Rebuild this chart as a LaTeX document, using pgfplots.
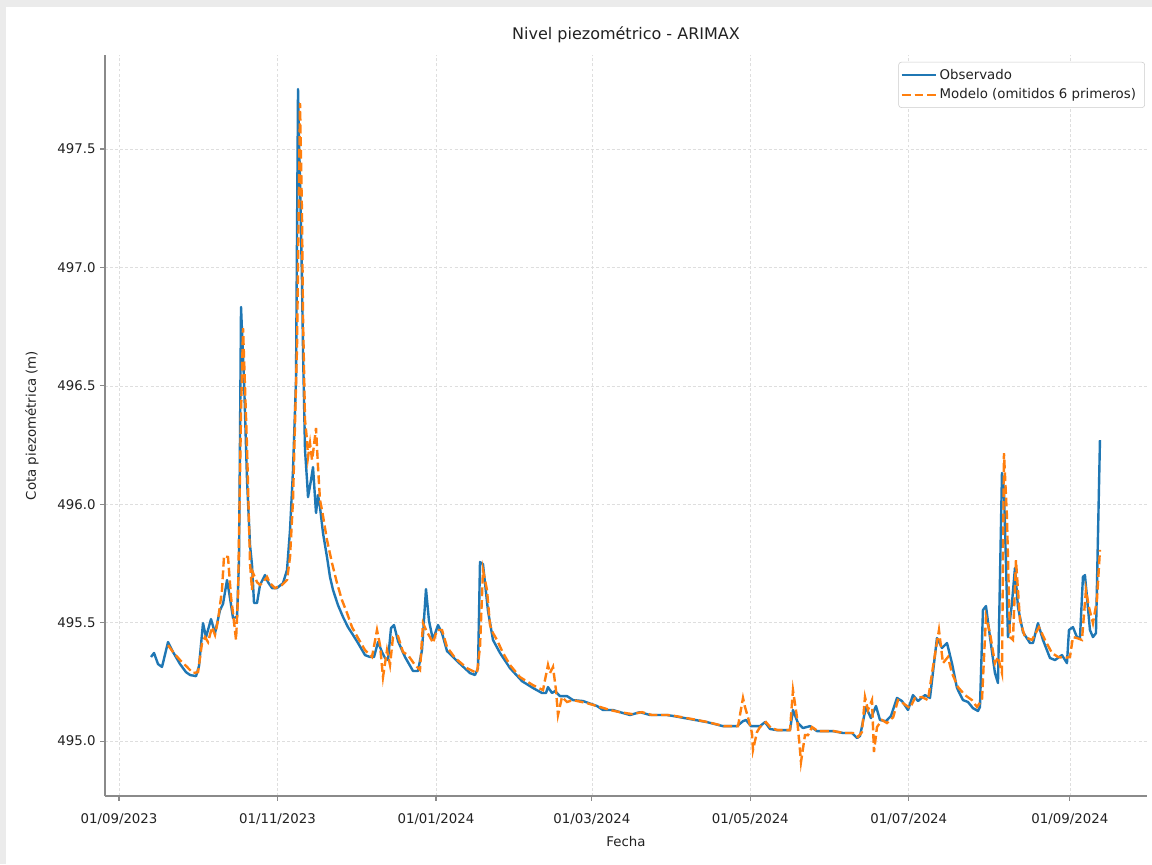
\documentclass[border=0pt]{standalone}
\usepackage{pgfplots}
\pgfplotsset{compat=1.18}
\usepackage{fontspec}
\setmainfont{DejaVu Sans}
\definecolor{mblue}{HTML}{1F77B4}
\definecolor{morange}{HTML}{FF7F0E}
\definecolor{spine}{HTML}{8A8A8A}
\definecolor{txt}{HTML}{222222}
\begin{document}
\begin{tikzpicture}
\fill[white] (-78.75pt,-51pt) rectangle (785.25pt,597pt);
\fill[black!8] (-78.75pt,591.5pt) rectangle (785.25pt,597pt);
\fill[black!8] (-78.75pt,-51pt) rectangle (-74.5pt,597pt);
\begin{axis}[
  scale only axis, width=781.5pt, height=555.75pt,
  xmin=-5.4, xmax=395.7, ymin=494.768, ymax=497.897,
  axis x line*=bottom, axis y line*=left,
  axis line style={-, draw=spine, line width=0.8pt},
  tick align=outside, major tick length=3.5pt,
  tick style={draw=spine, line width=0.8pt},
  xtick={0,61,122,182,243,304,366},
  xticklabels={01/09/2023,01/11/2023,01/01/2024,01/03/2024,01/05/2024,01/07/2024,01/09/2024},
  ytick={495.0,495.5,496.0,496.5,497.0,497.5},
  yticklabels={495.0,495.5,496.0,496.5,497.0,497.5},
  ticklabel style={font=\fontsize{10}{12}\selectfont, text=txt},
  xticklabel style={yshift=-6pt},
  grid=major,
  grid style={dash pattern=on 2.2pt off 1.6pt, black!13, line width=0.45pt},
  every axis title shift=0pt,
  title={Nivel piezométrico - ARIMAX},
  title style={font=\fontsize{12}{14}\selectfont, text=txt, at={(axis description cs:0.5,1.027)}, anchor=center},
  xlabel={Fecha},
  xlabel style={font=\fontsize{10}{12}\selectfont, text=txt, at={(axis description cs:0.5,-0.062)}, anchor=center},
  ylabel={Cota piezométrica (m)},
  ylabel style={font=\fontsize{10}{12}\selectfont, text=txt, at={(axis description cs:-0.0701,0.5)}, anchor=center, rotate=0},
  legend style={at={(0.998,0.9906)}, anchor=north east, draw=black!20, rounded corners=2pt, fill=white,
     font=\fontsize{10}{12}\selectfont, text=txt, row sep=1.8pt, inner xsep=1.5pt, inner ysep=3pt},
  legend cell align=left,
  legend image code/.code={\draw[#1] (0pt,0pt) -- (22.5pt,0pt); \path (0pt,0pt) -- (25.5pt,0pt);},
]
\addplot[mblue, line width=1.8pt, line join=round] coordinates {
(12.32,495.355)(13.47,495.372)(15.01,495.325)(16.55,495.313)(18.86,495.418)(20.78,495.376)(23.48,495.325)(25.79,495.291)(27.33,495.279)(29.64,495.274)(30.79,495.317)(32.33,495.498)(33.49,495.439)(35.41,495.515)(36.95,495.456)(38.87,495.553)(40.03,495.579)(41.57,495.680)(42.72,495.604)(43.88,495.519)(45.42,495.524)(46.19,495.764)(46.96,496.833)(48.11,496.525)(49.27,496.102)(50.42,495.828)(51.19,495.743)(51.96,495.583)(53.12,495.583)(54.27,495.659)(56.20,495.701)(57.35,495.671)(58.89,495.646)(60.81,495.646)(63.12,495.667)(64.66,495.722)(65.82,495.891)(66.97,496.144)(68.13,496.525)(68.90,497.753)(69.67,497.356)(70.44,496.934)(70.82,496.651)(71.59,496.229)(72.36,496.102)(72.75,496.030)(73.90,496.102)(74.67,496.157)(75.83,495.963)(76.60,496.039)(77.36,495.988)(78.52,495.878)(80.06,495.777)(81.21,495.693)(82.37,495.638)(84.29,495.574)(86.22,495.524)(88.14,495.481)(90.07,495.448)(91.99,495.414)(94.69,495.363)(96.61,495.355)(98.15,495.355)(99.69,495.418)(101.23,495.376)(102.38,495.351)(103.54,495.342)(104.69,495.477)(105.85,495.490)(107.39,495.422)(110.08,495.355)(113.16,495.296)(115.09,495.296)(116.62,495.384)(118.16,495.642)(119.32,495.507)(120.86,495.427)(122.78,495.490)(124.32,495.456)(126.25,495.380)(130.10,495.338)(135.10,495.287)(137.02,495.279)(138.18,495.308)(138.95,495.756)(140.10,495.747)(142.03,495.549)(143.95,495.427)(146.65,495.372)(150.50,495.308)(155.11,495.253)(159.35,495.224)(162.81,495.203)(164.35,495.203)(165.12,495.228)(166.66,495.203)(167.82,495.211)(169.74,495.190)(172.44,495.190)(174.74,495.173)(178.59,495.169)(183.98,495.148)(186.29,495.131)(190.14,495.131)(192.83,495.122)(196.68,495.110)(200.53,495.122)(204.38,495.110)(210.93,495.110)(213.23,495.106)(219.78,495.093)(226.32,495.080)(232.48,495.063)(237.87,495.063)(240.18,495.084)(241.33,495.089)(243.26,495.063)(246.72,495.063)(248.65,495.080)(250.57,495.051)(253.27,495.046)(258.27,495.046)(259.42,495.131)(261.35,495.076)(263.27,495.055)(265.97,495.063)(268.66,495.042)(274.82,495.042)(278.67,495.034)(282.13,495.034)(284.06,495.013)(285.21,495.021)(287.52,495.144)(289.44,495.097)(291.37,495.148)(292.91,495.089)(295.22,495.084)(297.14,495.106)(299.45,495.182)(301.38,495.169)(303.69,495.131)(305.61,495.194)(307.54,495.169)(310.23,495.194)(312.16,495.182)(314.85,495.435)(316.78,495.393)(318.70,495.414)(320.62,495.329)(322.55,495.224)(324.86,495.173)(326.78,495.165)(328.70,495.139)(330.63,495.127)(331.40,495.144)(332.55,495.553)(333.71,495.570)(335.25,495.439)(337.17,495.287)(338.33,495.245)(339.87,496.132)(340.64,496.060)(342.18,495.439)(343.72,495.583)(344.87,495.731)(346.03,495.566)(347.95,495.460)(350.65,495.414)(351.80,495.414)(353.72,495.498)(355.65,495.427)(358.34,495.351)(360.27,495.342)(362.96,495.363)(364.89,495.329)(365.66,495.469)(367.19,495.481)(368.73,495.439)(369.89,495.435)(371.04,495.693)(371.81,495.701)(373.74,495.469)(374.89,495.439)(376.05,495.456)(377.59,496.271)
};
\addlegendentry{Observado}
\addplot[morange, line width=1.8pt, dash pattern=on 6.6pt off 2.9pt] coordinates {
(18.86,495.405)(20.78,495.376)(23.48,495.342)(26.17,495.313)(28.48,495.287)(30.41,495.291)(31.95,495.414)(33.10,495.439)(34.26,495.418)(35.80,495.481)(36.95,495.448)(38.11,495.511)(39.64,495.638)(40.41,495.781)(41.95,495.777)(43.11,495.608)(43.88,495.541)(45.03,495.427)(45.80,495.608)(46.96,496.385)(47.73,496.744)(49.27,496.242)(50.42,495.752)(51.19,495.638)(51.58,495.710)(53.12,495.671)(54.27,495.659)(55.43,495.671)(56.97,495.693)(58.12,495.667)(60.04,495.646)(62.74,495.659)(64.66,495.680)(65.82,495.777)(66.97,496.018)(68.51,496.664)(69.67,497.694)(70.44,497.213)(70.82,496.791)(71.59,496.356)(72.36,496.271)(72.75,496.199)(73.52,496.258)(74.29,496.187)(74.67,496.216)(75.83,496.322)(76.60,496.157)(77.36,496.018)(78.13,495.976)(80.06,495.849)(81.98,495.752)(83.91,495.667)(85.83,495.595)(87.76,495.541)(89.68,495.481)(91.99,495.435)(94.69,495.384)(97.38,495.355)(99.30,495.469)(100.46,495.405)(101.61,495.270)(103.15,495.384)(104.31,495.321)(105.46,495.439)(107.39,495.443)(109.31,495.376)(111.24,495.363)(113.93,495.321)(115.85,495.300)(117.01,495.498)(118.55,495.460)(119.70,495.439)(120.86,495.414)(122.40,495.469)(124.32,495.469)(126.25,495.397)(129.33,495.351)(133.95,495.308)(137.79,495.287)(138.95,495.397)(140.10,495.722)(141.64,495.638)(142.80,495.490)(143.95,495.456)(145.49,495.427)(147.80,495.372)(150.50,495.321)(154.34,495.270)(159.35,495.236)(163.20,495.215)(165.12,495.321)(165.89,495.287)(167.05,495.313)(168.20,495.215)(168.97,495.110)(170.51,495.186)(172.44,495.165)(174.74,495.173)(180.13,495.160)(185.14,495.144)(188.99,495.131)(192.83,495.122)(197.45,495.114)(201.30,495.122)(205.15,495.110)(211.31,495.110)(214.00,495.106)(220.55,495.093)(226.71,495.080)(232.87,495.063)(238.26,495.063)(240.18,495.182)(240.95,495.144)(242.10,495.101)(243.64,495.034)(244.03,494.962)(245.57,495.038)(246.72,495.059)(249.03,495.080)(250.96,495.055)(253.65,495.046)(258.27,495.046)(259.42,495.215)(260.96,495.101)(262.12,494.962)(262.50,494.911)(264.04,495.025)(265.20,495.025)(266.74,495.059)(269.05,495.042)(275.20,495.042)(279.05,495.034)(282.52,495.034)(284.44,495.017)(285.98,495.038)(287.14,495.186)(288.29,495.131)(289.83,495.173)(290.60,494.954)(291.76,495.059)(293.68,495.089)(295.60,495.076)(298.00,495.101)(299.84,495.173)(301.76,495.160)(304.46,495.139)(306.38,495.182)(309.07,495.186)(311.38,495.173)(313.31,495.313)(315.62,495.469)(317.16,495.329)(319.08,495.355)(320.62,495.287)(322.93,495.228)(325.63,495.194)(328.32,495.173)(330.24,495.144)(332.17,495.173)(333.71,495.524)(335.25,495.456)(337.17,495.329)(338.33,495.355)(339.87,495.287)(340.64,496.216)(341.79,495.946)(342.95,495.439)(344.10,495.427)(345.26,495.764)(346.80,495.511)(348.72,495.439)(351.42,495.427)(354.11,495.481)(356.42,495.427)(359.11,495.372)(361.42,495.355)(364.12,495.351)(366.04,495.355)(367.19,495.439)(368.73,495.435)(370.66,495.427)(372.20,495.638)(373.35,495.566)(374.89,495.498)(376.43,495.595)(377.59,495.807)
};
\addlegendentry{Modelo (omitidos 6 primeros)\hspace*{3pt}}
\end{axis}
\end{tikzpicture}
\end{document}
